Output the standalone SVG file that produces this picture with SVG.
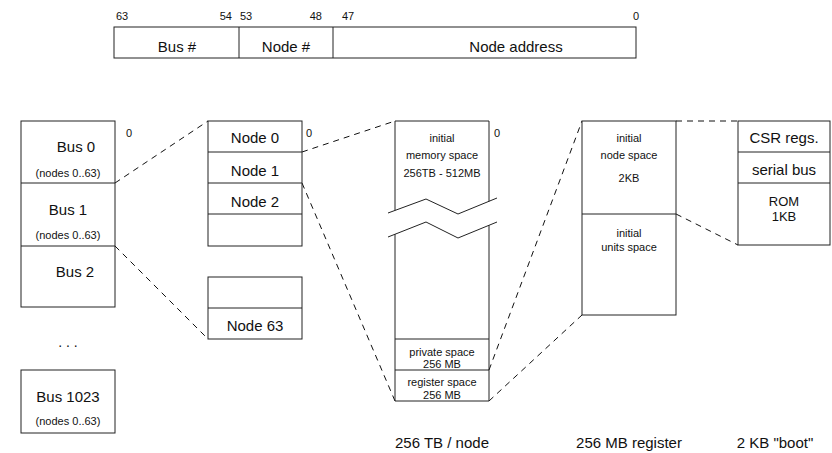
<svg xmlns="http://www.w3.org/2000/svg" width="832" height="453" viewBox="0 0 832 453">
<style>
.b{fill:#fff;stroke:#222;stroke-width:1}
.l{fill:none;stroke:#222;stroke-width:1}
.d{fill:none;stroke:#111;stroke-width:1;stroke-dasharray:6,5}
text{font-family:"Liberation Sans",Arial,sans-serif;fill:#111}
.t15{font-size:15px}
.t14{font-size:14px}
.t13{font-size:13px}
.t11{font-size:11px}
.c{text-anchor:middle}
</style>
<rect width="832" height="453" fill="#fff"/>
<g id="address-format">
<rect class="b" x="114" y="27" width="522" height="31"/>
<line class="l" x1="239" y1="27" x2="239" y2="58"/>
<line class="l" x1="333" y1="27" x2="333" y2="58"/>
<text class="t11" x="116" y="20">63</text>
<text class="t11" x="232" y="20" text-anchor="end">54</text>
<text class="t11" x="240" y="20">53</text>
<text class="t11" x="322" y="20" text-anchor="end">48</text>
<text class="t11" x="342" y="20">47</text>
<text class="t11" x="639" y="20" text-anchor="end">0</text>
<text class="t15 c" x="177" y="52">Bus #</text>
<text class="t15 c" x="286" y="52">Node #</text>
<text class="t15 c" x="516" y="52">Node address</text>
</g>
<g id="connectors">
<line class="d" x1="115" y1="183" x2="208" y2="121"/>
<line class="d" x1="115" y1="246" x2="208" y2="339"/>
<line class="d" x1="302" y1="152" x2="395" y2="121"/>
<line class="d" x1="302" y1="183" x2="395" y2="401"/>
<line class="d" x1="489" y1="370" x2="582" y2="121"/>
<line class="d" x1="489" y1="401" x2="582" y2="315"/>
<line class="d" x1="676" y1="121" x2="738" y2="121"/>
<line class="d" x1="676" y1="214" x2="738" y2="245"/>
</g>
<g id="buses">
<rect class="b" x="21" y="121" width="94" height="186"/>
<line class="l" x1="21" y1="183" x2="115" y2="183"/>
<line class="l" x1="21" y1="246" x2="115" y2="246"/>
<text class="t15 c" x="76" y="152">Bus 0</text>
<text class="t11 c" x="68" y="177">(nodes 0..63)</text>
<text class="t15 c" x="68" y="215">Bus 1</text>
<text class="t11 c" x="68" y="239">(nodes 0..63)</text>
<text class="t15 c" x="75" y="277">Bus 2</text>
<text class="t11" x="126" y="137">0</text>
<text class="t14 c" x="68" y="347">. . .</text>
</g>
<g id="bus-1023">
<rect class="b" x="21" y="370" width="94" height="63"/>
<text class="t15 c" x="68" y="402">Bus 1023</text>
<text class="t11 c" x="68" y="425">(nodes 0..63)</text>
</g>
<g id="nodes">
<rect class="b" x="208" y="121" width="94" height="125"/>
<line class="l" x1="208" y1="152" x2="302" y2="152"/>
<line class="l" x1="208" y1="183" x2="302" y2="183"/>
<line class="l" x1="208" y1="214" x2="302" y2="214"/>
<text class="t15 c" x="255" y="143">Node 0</text>
<text class="t15 c" x="255" y="176">Node 1</text>
<text class="t15 c" x="255" y="207">Node 2</text>
<text class="t11" x="306" y="137">0</text>
</g>
<g id="node-63">
<rect class="b" x="208" y="277" width="94" height="62"/>
<line class="l" x1="208" y1="308" x2="302" y2="308"/>
<text class="t15 c" x="255" y="331">Node 63</text>
</g>
<g id="node-memory">
<path class="l" d="M395,210.4 V121 H489 V201.3"/>
<path class="l" d="M395,234.2 V401 H489 V225.3"/>
<polyline class="l" points="388,213 426,199 458,214 497,198"/>
<polyline class="l" points="388,237 426,222 458,238 497,222"/>
<line class="l" x1="395" y1="339" x2="489" y2="339"/>
<line class="l" x1="395" y1="370" x2="489" y2="370"/>
<text class="t11 c" x="442" y="142">initial</text>
<text class="t11 c" x="442" y="159">memory space</text>
<text class="t11 c" x="442" y="177">256TB - 512MB</text>
<text class="t11 c" x="442" y="356">private space</text>
<text class="t11 c" x="442" y="368">256 MB</text>
<text class="t11 c" x="442" y="386">register space</text>
<text class="t11 c" x="442" y="399">256 MB</text>
<text class="t11" x="494" y="137">0</text>
<text class="t15 c" x="442" y="448">256 TB / node</text>
</g>
<g id="register-space">
<rect class="b" x="582" y="121" width="94" height="194"/>
<line class="l" x1="582" y1="214" x2="676" y2="214"/>
<text class="t11 c" x="629" y="142">initial</text>
<text class="t11 c" x="629" y="159">node space</text>
<text class="t11 c" x="629" y="182">2KB</text>
<text class="t11 c" x="629" y="237">initial</text>
<text class="t11 c" x="629" y="251">units space</text>
<text class="t15 c" x="629" y="448">256 MB register</text>
</g>
<g id="boot-rom">
<rect class="b" x="738" y="121" width="92" height="124"/>
<line class="l" x1="738" y1="152" x2="830" y2="152"/>
<line class="l" x1="738" y1="183" x2="830" y2="183"/>
<text class="t15 c" x="784" y="143">CSR regs.</text>
<text class="t15 c" x="784" y="175">serial bus</text>
<text class="t13 c" x="784" y="206">ROM</text>
<text class="t13 c" x="784" y="221">1KB</text>
<text class="t15 c" x="775" y="448">2 KB "boot"</text>
</g>
</svg>
